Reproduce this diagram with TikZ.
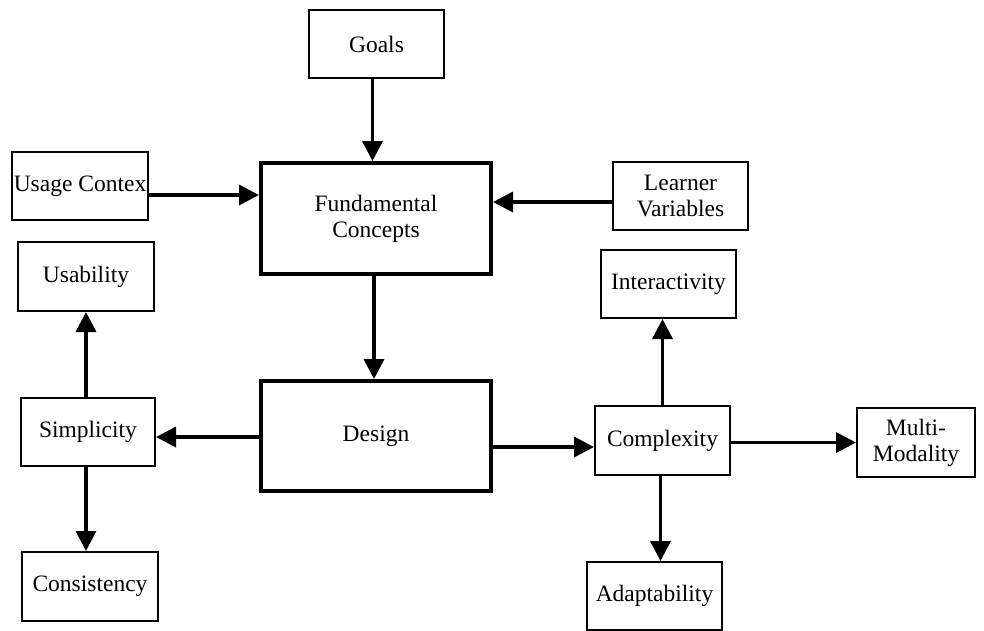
\documentclass[tikz,border=0pt]{standalone}
\usepackage{fontspec}
\setmainfont{Liberation Serif}
\usetikzlibrary{arrows.meta}
\begin{document}
\begin{tikzpicture}[x=1pt,y=-1pt,
  box/.style={draw, line width=2pt, align=center, inner sep=0pt,
    font=\fontsize{23.5}{26}\selectfont},
  bigbox/.style={box, line width=4pt},
  arr/.style={line width=3.5pt, -{Triangle[length=20pt,width=20pt]}}]
\useasboundingbox (0,0) rectangle (984,630);
\node[box, minimum width=135pt, minimum height=68pt] (goals) at (376.5,44) {Goals};
\node[box, minimum width=136pt, minimum height=68pt] (usage) at (80,186) {Usage Contex};
\node[bigbox, minimum width=230pt, minimum height=111pt] (fund) at (376,218.5) {Fundamental\\Concepts};
\node[box, minimum width=135pt, minimum height=68pt] (learner) at (680.5,196) {Learner\\Variables};
\node[box, minimum width=136pt, minimum height=69pt] (usab) at (86,276.5) {Usability};
\node[box, minimum width=135pt, minimum height=68pt] (inter) at (668.5,284) {Interactivity};
\node[box, minimum width=134pt, minimum height=68pt] (simp) at (88,432) {Simplicity};
\node[bigbox, minimum width=230pt, minimum height=110pt] (design) at (376,436) {Design};
\node[box, minimum width=135pt, minimum height=69pt] (compl) at (662.5,440.5) {Complexity};
\node[box, minimum width=118pt, minimum height=69pt] (multi) at (916,442.5) {Multi-\\Modality};
\node[box, minimum width=136pt, minimum height=69pt] (consist) at (90,586.5) {Consistency};
\node[box, minimum width=135pt, minimum height=68pt] (adapt) at (654.5,596) {Adaptability};
\draw[arr] ([xshift=-4pt]goals.south) -- ([xshift=-4pt]goals.south |- fund.north);
\draw[arr] ([yshift=-9pt]usage.east) -- ([yshift=-9pt]usage.east -| fund.west);
\draw[arr] ([yshift=-6pt]learner.west) -- ([yshift=-6pt]learner.west -| fund.east);
\draw[arr] ([xshift=-2pt]fund.south) -- ([xshift=-2pt]fund.south |- design.north);
\draw[arr] ([yshift=-1pt]design.west) -- ([yshift=-1pt]design.west -| simp.east);
\draw[arr] ([yshift=-11pt]design.east) -- ([yshift=-11pt]design.east -| compl.west);
\draw[arr] ([xshift=-2pt]simp.north) -- ([xshift=-2pt]simp.north |- usab.south);
\draw[arr] ([xshift=-2pt]simp.south) -- ([xshift=-2pt]simp.south |- consist.north);
\draw[arr] (compl.north) -- (compl.north |- inter.south);
\draw[arr] ([xshift=-2pt]compl.south) -- ([xshift=-2pt]compl.south |- adapt.north);
\draw[arr] ([yshift=-2pt]compl.east) -- ([yshift=-2pt]compl.east -| multi.west);
\end{tikzpicture}
\end{document}
